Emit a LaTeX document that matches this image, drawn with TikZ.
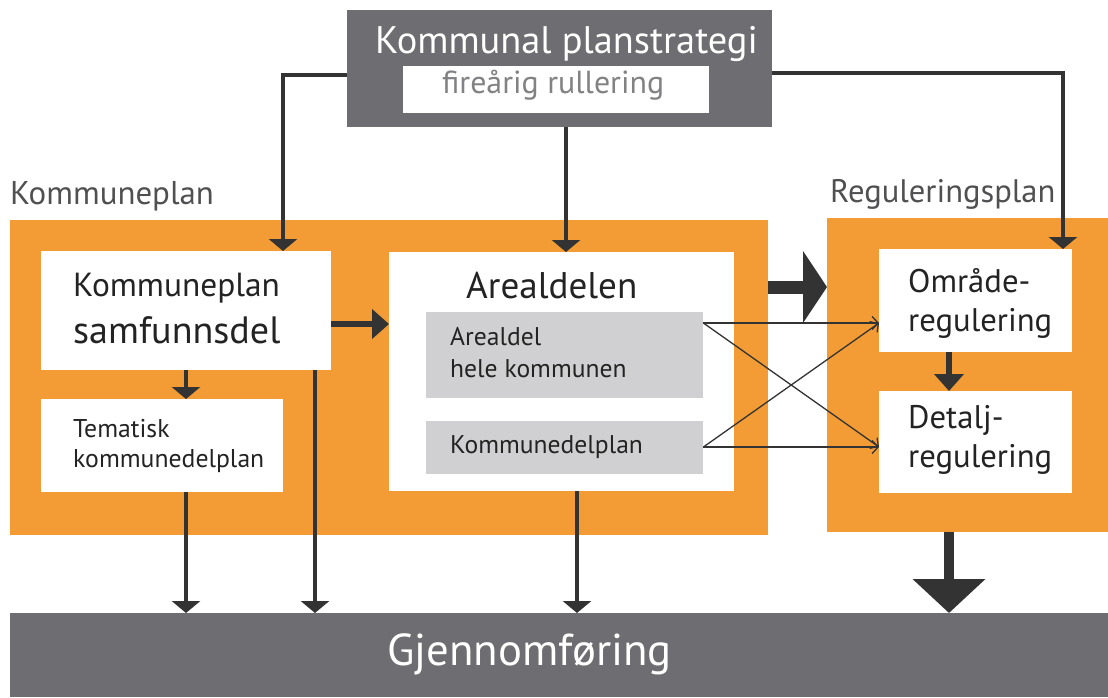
\documentclass[tikz,border=0pt]{standalone}
\usepackage{fontspec}
\setmainfont{PT Sans}
\usetikzlibrary{arrows.meta}
\definecolor{orng}{RGB}{243,156,53}
\definecolor{dgray}{RGB}{110,110,114}
\definecolor{lgray}{RGB}{208,208,210}
\definecolor{arrc}{RGB}{51,51,51}
\definecolor{txtc}{RGB}{35,35,35}
\definecolor{lblc}{RGB}{80,80,82}
\definecolor{firec}{RGB}{130,130,132}
\newcommand{\myfs}[1]{\fontsize{#1}{#1}\selectfont}
\tikzset{
  rbox/.style={fill=#1, draw=none, inner sep=0pt, anchor=north west},
  txt/.style={anchor=base west, inner sep=0pt, text=txtc},
  thinarr/.style={draw=arrc, line width=4.5pt, -{Triangle[width=28pt,length=12pt]}},
  midarr/.style={draw=arrc, line width=6.5pt, -{Triangle[width=29pt,length=17pt]}},
  conn/.style={draw=arrc, line width=4.5pt},
  crossarr/.style={draw=arrc, line width=1.3pt, -{Straight Barb[length=6pt,width=13pt]}},
  bigarr/.style={draw=arrc, -{Triangle[width=71pt,length=#1]}},
}
\begin{document}
\begin{tikzpicture}[x=1pt,y=-1pt]
\useasboundingbox (0,0) rectangle (1108,697);
% backgrounds
\node[rbox=orng, minimum width=758pt, minimum height=315pt] (kpo) at (10,220) {};
\node[rbox=orng, minimum width=281pt, minimum height=314pt] (rpo) at (827,218) {};
\node[rbox=dgray, minimum width=1098pt, minimum height=84pt] (gj) at (10,613) {};
\node[rbox=dgray, minimum width=425pt, minimum height=117pt] (kps) at (347,10) {};
\node[rbox=white, minimum width=306pt, minimum height=47pt] (fire) at (403,66) {};
% boxes
\node[rbox=white, minimum width=290pt, minimum height=119pt] (samf) at (41,251) {};
\node[rbox=white, minimum width=242pt, minimum height=93pt] (tem) at (41,399) {};
\node[rbox=white, minimum width=345pt, minimum height=239pt] (areal) at (389,252) {};
\node[rbox=lgray, minimum width=277pt, minimum height=86pt] (g1) at (426,312) {};
\node[rbox=lgray, minimum width=277pt, minimum height=53pt] (g2) at (426,421) {};
\node[rbox=white, minimum width=193pt, minimum height=103pt] (omr) at (879,249) {};
\node[rbox=white, minimum width=193pt, minimum height=102pt] (det) at (879,391) {};
% texts
\node[txt, text=white, font=\myfs{38.4}] (tkps) at (375,53) {Kommunal planstrategi};
\node[txt, text=firec, font=\myfs{31.9}] (tfire) at (442,93) {fireårig rullering};
\node[txt, text=lblc, font=\myfs{32.9}] (tkp) at (10,204) {Kommuneplan};
\node[txt, text=lblc, font=\myfs{32.6}] (trp) at (830,202) {Reguleringsplan};
\node[txt, font=\myfs{33.4}] (ts1) at (73,296) {Kommuneplan};
\node[txt, font=\myfs{38.1}] (ts2) at (73,343) {samfunnsdel};
\node[txt, font=\myfs{25.7}] (tt1) at (73,437) {Tematisk};
\node[txt, font=\myfs{25.7}] (tt2) at (73,467) {kommunedelplan};
\node[txt, font=\myfs{37.1}] (ta) at (466,298) {Arealdelen};
\node[txt, font=\myfs{25.6}] (tg1a) at (450,345) {Arealdel};
\node[txt, font=\myfs{25.6}] (tg1b) at (450,377) {hele kommunen};
\node[txt, font=\myfs{25.6}] (tg2) at (450,453) {Kommunedelplan};
\node[txt, font=\myfs{32.7}] (to1) at (908,292) {Område-};
\node[txt, font=\myfs{32.7}] (to2) at (908,331) {regulering};
\node[txt, font=\myfs{32.7}] (td1) at (908,428) {Detalj-};
\node[txt, font=\myfs{32.7}] (td2) at (908,467) {regulering};
\node[txt, text=white, font=\myfs{44.7}] (tgj) at (387,665) {Gjennomføring};
% helper coordinates
\coordinate (cl) at (283,75);
\coordinate (cr) at (1063,73);
\coordinate (cm) at (566,0);
\coordinate (x186) at (186,0);
\coordinate (x315) at (315,0);
\coordinate (x577) at (577,0);
\coordinate (x949) at (949,0);
\coordinate (y324) at (0,324);
\coordinate (y287) at (0,287);
\coordinate (y323) at (0,323);
\coordinate (y447) at (0,447);
% top connectors
\draw[thinarr] (kps.west |- cl) -- (cl) -- (samf.north -| cl);
\draw[thinarr] (kps.east |- cr) -- (cr) -- (omr.north -| cr);
\draw[thinarr] (kps.south -| cm) -- (areal.north -| cm);
% kommuneplan internals
\draw[thinarr] (samf.south -| x186) -- (tem.north -| x186);
\draw[midarr] (samf.east |- y324) -- (areal.west |- y324);
\draw[thinarr] (tem.south -| x186) -- (gj.north -| x186);
\draw[thinarr] (samf.south -| x315) -- (gj.north -| x315);
\draw[thinarr] (areal.south -| x577) -- (gj.north -| x577);
% cross connectors
\draw[crossarr] (g1.east |- y323) -- (omr.west |- y323);
\draw[crossarr] (g1.east |- y323) -- (det.west |- y447);
\draw[crossarr] (g2.east |- y447) -- (omr.west |- y323);
\draw[crossarr] (g2.east |- y447) -- (det.west |- y447);
% regulering internals
\draw[midarr] (omr.south -| x949) -- (det.north -| x949);
% big arrows
\draw[bigarr=24pt, line width=13pt] (kpo.east |- y287) -- (rpo.west |- y287);
\draw[bigarr=34pt, line width=10pt] (rpo.south -| x949) -- (gj.north -| x949);
\end{tikzpicture}
\end{document}
